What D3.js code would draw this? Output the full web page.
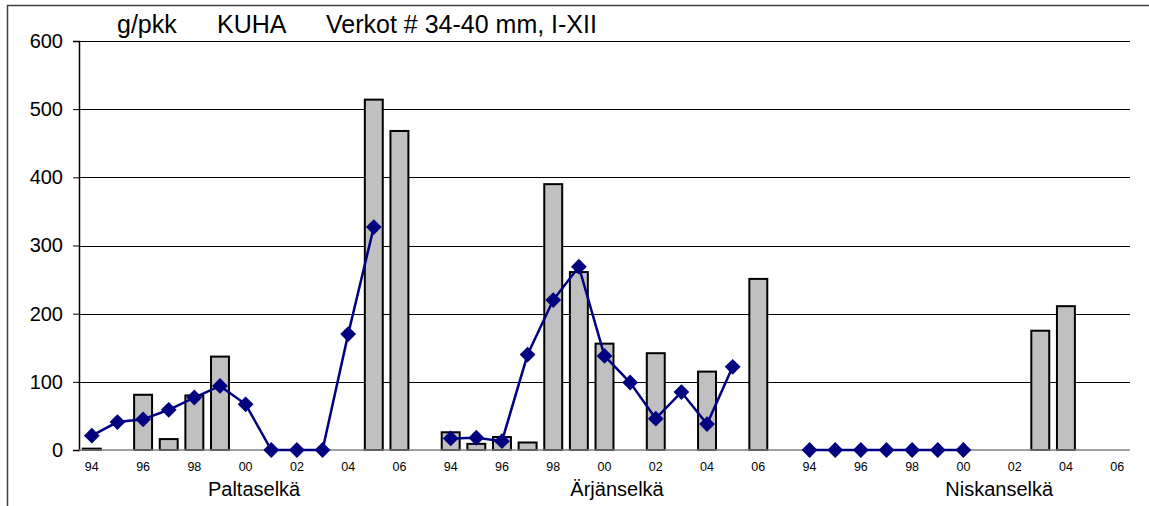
<!DOCTYPE html>
<html>
<head>
<meta charset="utf-8">
<script src="https://cdn.jsdelivr.net/npm/d3@7"></script>
<style>
  body { margin: 0; background: #fff; }
  svg { display: block; font-family: Arial, "Liberation Sans", sans-serif; }
</style>
</head>
<body>
<div id="chart"></div>
<script>
// year labels inside each lake group, and the lakes themselves
const years = ["94", "95", "96", "97", "98", "99", "00", "01", "02", "03", "04", "05", "06"];
const groups = ["Paltaselkä", "Ärjänselkä", "Niskanselkä"];
const yTicks = [0, 100, 200, 300, 400, 500, 600];
const titleParts = ["g/pkk", "KUHA", "Verkot # 34-40 mm, I-XII"];

// bars (g/pkk), one value per year, null = no bar
const paltaBars = [2, null, 81, 16, 80, 137, null, null, null, null, null, 514, 468];
const arjaBars = [26, 9, 19, 11, 390, 261, 156, null, 142, null, 115, null, 251];
const niskaBars = [null, null, null, null, null, null, null, null, null, 175, 211, null, null];

// line series, null = gap
const paltaLine = [21, 41, 45, 59, 77, 94, 67, 0, 0, 0, 170, 327, null];
const arjaLine = [17, 18, 13, 140, 220, 269, 138, 99, 46, 85, 38, 122, null];
const niskaLine = [0, 0, 0, 0, 0, 0, 0, null, null, null, null, null, null];

// build flat category list: 13 years per lake with one empty slot between lakes
let cats = [];
let barData = [];
let lineData = [];
const allBars = [paltaBars, arjaBars, niskaBars];
const allLines = [paltaLine, arjaLine, niskaLine];
groups.forEach((g, gi) => {
    years.forEach((y, yi) => {
        let key = g + "-" + y;
        cats.push(key);
        barData.push({key: key, year: y, value: allBars[gi][yi]});
        lineData.push({key: key, value: allLines[gi][yi]});
    });
    if (gi < groups.length - 1) {
        let key = "gap" + gi;
        cats.push(key);
        barData.push({key: key, year: "", value: null});
        lineData.push({key: key, value: null});
    }
});

const W = 1149, H = 506;
const margin = {top: 41, right: 19, bottom: 56, left: 79};
const width = W - margin.left - margin.right;
const height = H - margin.top - margin.bottom;

const svg = d3.select("#chart").append("svg")
    .attr("width", W)
    .attr("height", H);

// outer chart frame (only top and left edges are visible)
svg.append("path")
    .attr("d", "M7.5," + H + "V5.5H" + W)
    .attr("fill", "none")
    .attr("stroke", "#404040")
    .attr("stroke-width", 1.5);

const g = svg.append("g")
    .attr("transform", "translate(" + margin.left + "," + margin.top + ")");

const x = d3.scaleBand()
    .domain(cats)
    .range([0, width])
    .paddingInner(0.3)
    .paddingOuter(0.15);

const y = d3.scaleLinear()
    .domain([0, 600])
    .range([height, 0]);

// gridlines
g.selectAll(".grid")
    .data(yTicks.filter(d => d > 0))
    .enter()
    .append("line")
    .attr("class", "grid")
    .attr("x1", 0)
    .attr("x2", width)
    .attr("y1", d => Math.round(y(d)) + 0.5)
    .attr("y2", d => Math.round(y(d)) + 0.5)
    .attr("stroke", "#000")
    .attr("stroke-width", 1);

// y axis
const yAxis = d3.axisLeft(y)
    .tickValues(yTicks)
    .tickSize(6)
    .tickPadding(10);

let yg = g.append("g")
    .attr("class", "y-axis")
    .call(yAxis);
yg.select(".domain").attr("stroke", "#000").attr("stroke-width", 1.5);
yg.selectAll(".tick line").attr("stroke", "#000");
yg.selectAll("text")
    .style("font-size", "20px")
    .style("font-family", "Arial, 'Liberation Sans', sans-serif")
    .attr("fill", "#000");

// bars
g.selectAll(".bar")
    .data(barData.filter(d => d.value != null))
    .enter()
    .append("rect")
    .attr("class", "bar")
    .attr("x", d => x(d.key))
    .attr("y", d => y(d.value))
    .attr("width", x.bandwidth())
    .attr("height", d => y(0) - y(d.value))
    .attr("fill", "#C0C0C0")
    .attr("stroke", "#000")
    .attr("stroke-width", 2);

// baseline
g.append("line")
    .attr("x1", 0)
    .attr("x2", width)
    .attr("y1", y(0))
    .attr("y2", y(0))
    .attr("stroke", "#808080")
    .attr("stroke-width", 1.5);

// x axis labels (only every other year shown)
const xAxis = d3.axisBottom(x)
    .tickValues(cats.filter(c => {
        let yr = c.split("-")[1];
        return yr != null && years.indexOf(yr) % 2 === 0;
    }))
    .tickFormat(c => c.split("-")[1])
    .tickSize(0)
    .tickPadding(12);

let xg = g.append("g")
    .attr("class", "x-axis")
    .attr("transform", "translate(0," + height + ")")
    .call(xAxis);
xg.select(".domain").remove();
xg.selectAll("text")
    .style("font-size", "12.5px")
    .style("font-family", "Arial, 'Liberation Sans', sans-serif")
    .attr("fill", "#000");

// line with diamonds
const line = d3.line()
    .defined(d => d.value != null)
    .x(d => x(d.key) + x.bandwidth() / 2)
    .y(d => y(d.value));

g.append("path")
    .datum(lineData)
    .attr("fill", "none")
    .attr("stroke", "#000080")
    .attr("stroke-width", 2.5)
    .attr("d", line);

const diamond = d3.symbol().type(d3.symbolSquare).size(125);
g.selectAll(".marker")
    .data(lineData.filter(d => d.value != null))
    .enter()
    .append("path")
    .attr("class", "marker")
    .attr("d", diamond)
    .attr("transform", d => "translate(" + (x(d.key) + x.bandwidth() / 2) + "," + y(d.value) + ") rotate(45)")
    .attr("fill", "#000080");

// lake names under the axis
const step = x.step();
const groupPos = [6.33, 20.49, 35.4];
g.selectAll(".group-label")
    .data(groups)
    .enter()
    .append("text")
    .attr("class", "group-label")
    .attr("x", (d, i) => x.paddingOuter() * step + (groupPos[i] + 0.5) * step - step * 0.15)
    .attr("y", height + 46)
    .attr("text-anchor", "middle")
    .style("font-size", "20px")
    .text(d => d);

// title, three pieces spaced like the original
const titleX = [117, 217, 326];
svg.selectAll(".title")
    .data(titleParts)
    .enter()
    .append("text")
    .attr("class", "title")
    .attr("x", (d, i) => titleX[i])
    .attr("y", 33)
    .style("font-size", "25px")
    .text(d => d);
</script>
</body>
</html>
